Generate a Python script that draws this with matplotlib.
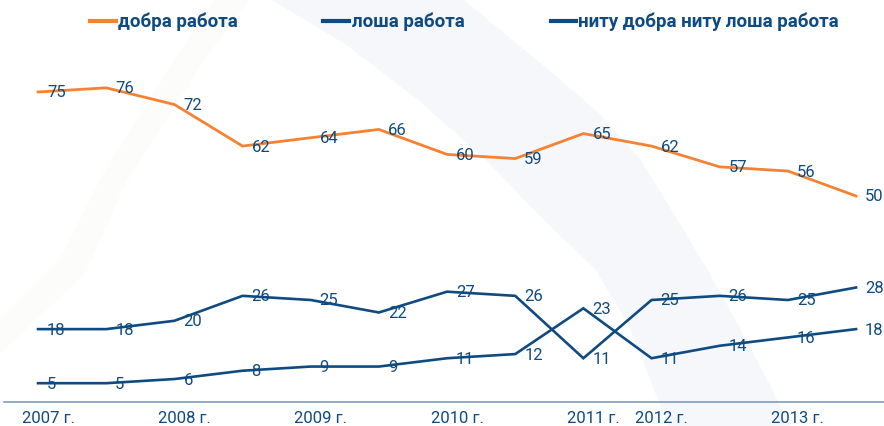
import numpy as np
import matplotlib
matplotlib.use("Agg")
import matplotlib.pyplot as plt
from matplotlib.lines import Line2D
from matplotlib.patches import Polygon
from matplotlib.transforms import ScaledTranslation

plt.rcParams['font.family'] = ['Roboto', 'DejaVu Sans']

# --- data ---
good_job = [75, 76, 72, 62, 64, 66, 60, 59, 65, 62, 57, 56, 50]
bad_job = [18, 18, 20, 26, 25, 22, 27, 26, 11, 25, 26, 25, 28]
neither = [5, 5, 6, 8, 9, 9, 11, 12, 23, 11, 14, 16, 18]
year_labels = ['2007 г.', '2008 г.', '2009 г.', '2010 г.', '2011 г.', '2012 г.', '2013 г.']
year_idx = [0, 2, 4, 6, 8, 9, 11]
legend_names = ['добра работа', 'лоша работа', 'ниту добра ниту лоша работа']

ORANGE = '#f58232'
BLUE = '#0f4a80'
W, H = 884, 427

fig = plt.figure(figsize=(W / 100, H / 100), dpi=100)


def px(x, y):
    # pixel (from top-left) -> figure fraction
    return (x / W, 1 - y / H)


# background decoration (light swoosh bands)
band = [(270, 0), (345, 45), (417, 100), (485, 160), (543, 220), (595, 270), (628, 325),
        (650, 380), (668, 427), (790, 427), (767, 380), (735, 320), (707, 270), (677, 220),
        (640, 160), (600, 115), (550, 72), (505, 35), (463, 0)]
fig.patches.append(Polygon([px(*p) for p in band], closed=True, transform=fig.transFigure,
                           facecolor='#f5f7fa', edgecolor='none', zorder=-5))
warm = [(215, 0), (175, 60), (100, 180), (60, 260), (0, 320), (0, 355), (85, 275),
        (125, 185), (205, 60), (250, 0)]
fig.patches.append(Polygon([px(*p) for p in warm], closed=True, transform=fig.transFigure,
                           facecolor='#fcfcfa', edgecolor='none', zorder=-5))

ax = fig.add_axes([4 / W, 24 / H, 880 / W, 363 / H])
ax.patch.set_alpha(0)

x = np.arange(len(good_job))
ax.plot(x, good_job, color=ORANGE, lw=2.0, solid_joinstyle='miter', zorder=2)
ax.plot(x, bad_job, color=BLUE, lw=1.9, solid_joinstyle='miter', zorder=2)
ax.plot(x, neither, color=BLUE, lw=1.9, solid_joinstyle='miter', zorder=2)

for series in (good_job, bad_job, neither):
    for xi, v in zip(x, series):
        ax.annotate(str(v), (xi, v), xytext=(6.5, 0), textcoords='offset points',
                    ha='left', va='center', fontsize=12, color=BLUE, zorder=3,
                    annotation_clip=False)

ax.set_xlim(-0.499, 12.41)
ax.set_ylim(0.48, 87.74)

for s in ['top', 'left', 'right']:
    ax.spines[s].set_visible(False)
ax.spines['bottom'].set_color('#7393b8')
ax.spines['bottom'].set_linewidth(1.1)
ax.set_yticks([])
ax.set_xticks(year_idx)
ax.set_xticklabels(year_labels, fontsize=12, color=BLUE)
ax.tick_params(axis='x', length=0, pad=5.5)
shift = ScaledTranslation(10 / 100, 0, fig.dpi_scale_trans)
for lab in ax.get_xticklabels():
    lab.set_transform(lab.get_transform() + shift)

# legend drawn by hand to match the spacing
leg_items = [(90, 116, 118, ORANGE), (323, 349, 352, BLUE), (551, 576, 578, BLUE)]
for (x0, x1, xt, c), name in zip(leg_items, legend_names):
    (fx0, fy), (fx1, _) = px(x0, 22), px(x1, 22)
    fig.add_artist(Line2D([fx0, fx1], [fy, fy], transform=fig.transFigure, color=c, lw=3))
    fig.text(xt / W, fy, name, ha='left', va='center', fontsize=13.5, fontweight='bold',
             color=BLUE)

fig.savefig('out.png', dpi=100)
